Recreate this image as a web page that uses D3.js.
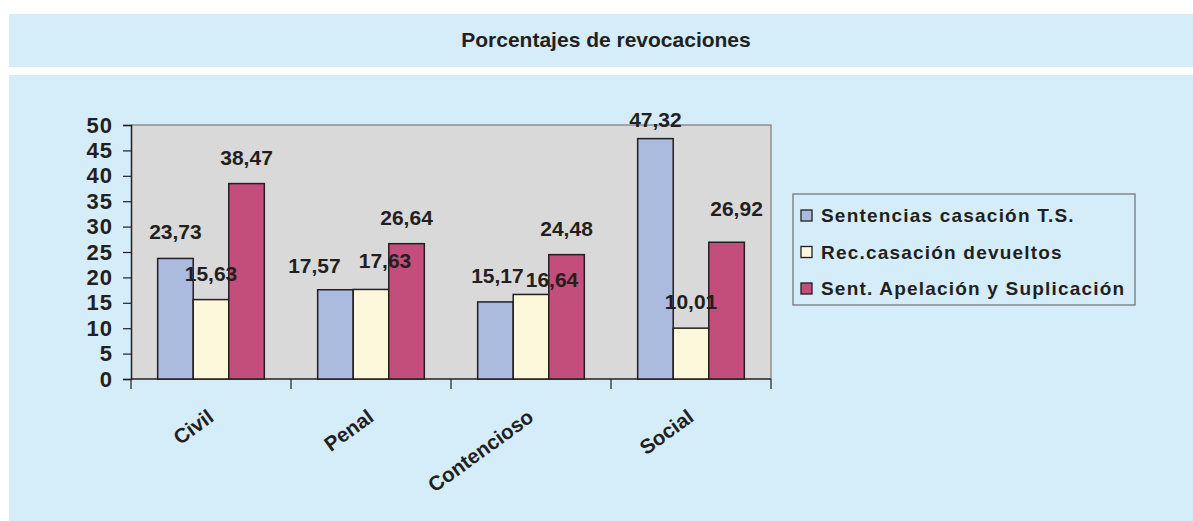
<!DOCTYPE html>
<html>
<head>
<meta charset="utf-8">
<script src="https://cdn.jsdelivr.net/npm/d3@7"></script>
<style>
  body { margin: 0; background: #fff; }
  text { font-family: "Liberation Sans", Arial, sans-serif; font-weight: bold; fill: #231f20; }
</style>
</head>
<body>
<div id="chart"></div>
<script>
// Data
var categories = ["Civil", "Penal", "Contencioso", "Social"];
var seriesNames = ["Sentencias casación T.S.", "Rec.casación devueltos", "Sent. Apelación y Suplicación"];
var sentencias = [23.73, 17.57, 15.17, 47.32];
var devueltos = [15.63, 17.63, 16.64, 10.01];
var apelacion = [38.47, 26.64, 24.48, 26.92];
var yTicks = [0, 5, 10, 15, 20, 25, 30, 35, 40, 45, 50];
var colors = ["#abbadf", "#fdf7dc", "#c44e7b"];

// hand-placed label nudges (as in the original chart), keyed "category|series"
var labelNudge = {
  "Penal|0": [-21, 2],
  "Penal|1": [14, -2],
  "Contencioso|0": [2, 0],
  "Contencioso|1": [21, 12],
  "Social|0": [0, 7],
  "Social|2": [10, -7]
};

var W = 1193, H = 521;
var plot = {left: 131, right: 771, top: 125, bottom: 379};

var svg = d3.select("#chart").append("svg")
  .attr("width", W)
  .attr("height", H);

// background panels
svg.append("rect").attr("x", 9).attr("y", 14).attr("width", W - 9).attr("height", 53).attr("fill", "#d5ecf9");
svg.append("rect").attr("x", 9).attr("y", 75).attr("width", W - 9).attr("height", H - 75).attr("fill", "#d5ecf9");

svg.append("text")
  .attr("x", 606)
  .attr("y", 47)
  .attr("text-anchor", "middle")
  .style("font-size", "21px")
  .text("Porcentajes de revocaciones");

// scales
var x = d3.scaleBand()
  .domain(categories)
  .range([plot.left, plot.right]);

var xSub = d3.scaleBand()
  .domain(d3.range(seriesNames.length))
  .range([0, x.bandwidth()])
  .paddingOuter(0.75);

var y = d3.scaleLinear()
  .domain([0, 50])
  .range([plot.bottom, plot.top]);

// plot area
svg.append("rect")
  .attr("x", plot.left).attr("y", plot.top)
  .attr("width", plot.right - plot.left)
  .attr("height", plot.bottom - plot.top)
  .attr("fill", "#d9d9d9");
svg.append("path")
  .attr("d", "M" + plot.left + "," + plot.top + "H" + plot.right + "V" + plot.bottom)
  .attr("fill", "none")
  .attr("stroke", "#8f8f8f")
  .attr("stroke-width", 1.5);

// y axis
var yAxis = svg.append("g")
  .attr("transform", "translate(" + plot.left + ",0)")
  .call(d3.axisLeft(y).tickValues(yTicks).tickSize(8).tickPadding(10));
yAxis.select(".domain").attr("stroke", "#231f20").attr("stroke-width", 1.5);
yAxis.selectAll(".tick line").attr("stroke", "#231f20").attr("stroke-width", 1.2);
yAxis.selectAll("text")
  .style("font-size", "22px")
  .style("letter-spacing", "1px")
  .style("font-family", "'Liberation Sans', Arial, sans-serif")
  .style("font-weight", "bold")
  .attr("fill", "#231f20");

// x axis with ticks between categories
var xAxis = svg.append("g");
xAxis.append("line")
  .attr("x1", plot.left).attr("x2", plot.right)
  .attr("y1", plot.bottom).attr("y2", plot.bottom)
  .attr("stroke", "#231f20").attr("stroke-width", 1.5);
xAxis.selectAll(".xtick")
  .data(categories.concat([null]))
  .enter().append("line")
  .attr("x1", d => d === null ? plot.right : x(d))
  .attr("x2", d => d === null ? plot.right : x(d))
  .attr("y1", plot.bottom)
  .attr("y2", plot.bottom + 10)
  .attr("stroke", "#231f20").attr("stroke-width", 1.2);

svg.selectAll(".cat")
  .data(categories)
  .enter().append("text")
  .attr("class", "cat")
  .attr("text-anchor", "end")
  .attr("transform", d => "translate(" + (x(d) + x.bandwidth() / 2 + 4) + ",420) rotate(-36)")
  .style("font-size", "20.5px")
  .text(d => d);

// bars
var allSeries = [sentencias, devueltos, apelacion];
var bars = [];
categories.forEach(function (c, i) {
  allSeries.forEach(function (s, j) {
    bars.push({cat: c, series: j, value: s[i]});
  });
});

svg.selectAll(".bar")
  .data(bars)
  .enter().append("rect")
  .attr("class", "bar")
  .attr("x", d => x(d.cat) + xSub(d.series))
  .attr("y", d => y(d.value))
  .attr("width", xSub.bandwidth())
  .attr("height", d => y(0) - y(d.value))
  .attr("fill", d => colors[d.series])
  .attr("stroke", "#231f20")
  .attr("stroke-width", 1.5);

function nudge(d) {
  return labelNudge[d.cat + "|" + d.series] || [0, 0];
}

svg.selectAll(".lbl")
  .data(bars)
  .enter().append("text")
  .attr("class", "lbl")
  .attr("text-anchor", "middle")
  .attr("x", d => x(d.cat) + xSub(d.series) + xSub.bandwidth() / 2 + nudge(d)[0])
  .attr("y", d => y(d.value) - 19 + nudge(d)[1])
  .style("font-size", "21px")
  .text(d => d.value.toFixed(2).replace(".", ","));

// legend
var legend = svg.append("g");
legend.append("rect")
  .attr("x", 793).attr("y", 194)
  .attr("width", 342).attr("height", 111)
  .attr("fill", "none")
  .attr("stroke", "#6f6f6f")
  .attr("stroke-width", 1.2);

var items = legend.selectAll(".item")
  .data(seriesNames)
  .enter().append("g")
  .attr("transform", (d, i) => "translate(0," + (i * 36.5) + ")");
items.append("rect")
  .attr("x", 801).attr("y", 210)
  .attr("width", 11).attr("height", 11)
  .attr("fill", (d, i) => colors[i])
  .attr("stroke", "#231f20")
  .attr("stroke-width", 1.3);
items.append("text")
  .attr("x", 821).attr("y", 222)
  .style("font-size", "19px")
  .style("letter-spacing", "1.2px")
  .text(d => d);
</script>
</body>
</html>
